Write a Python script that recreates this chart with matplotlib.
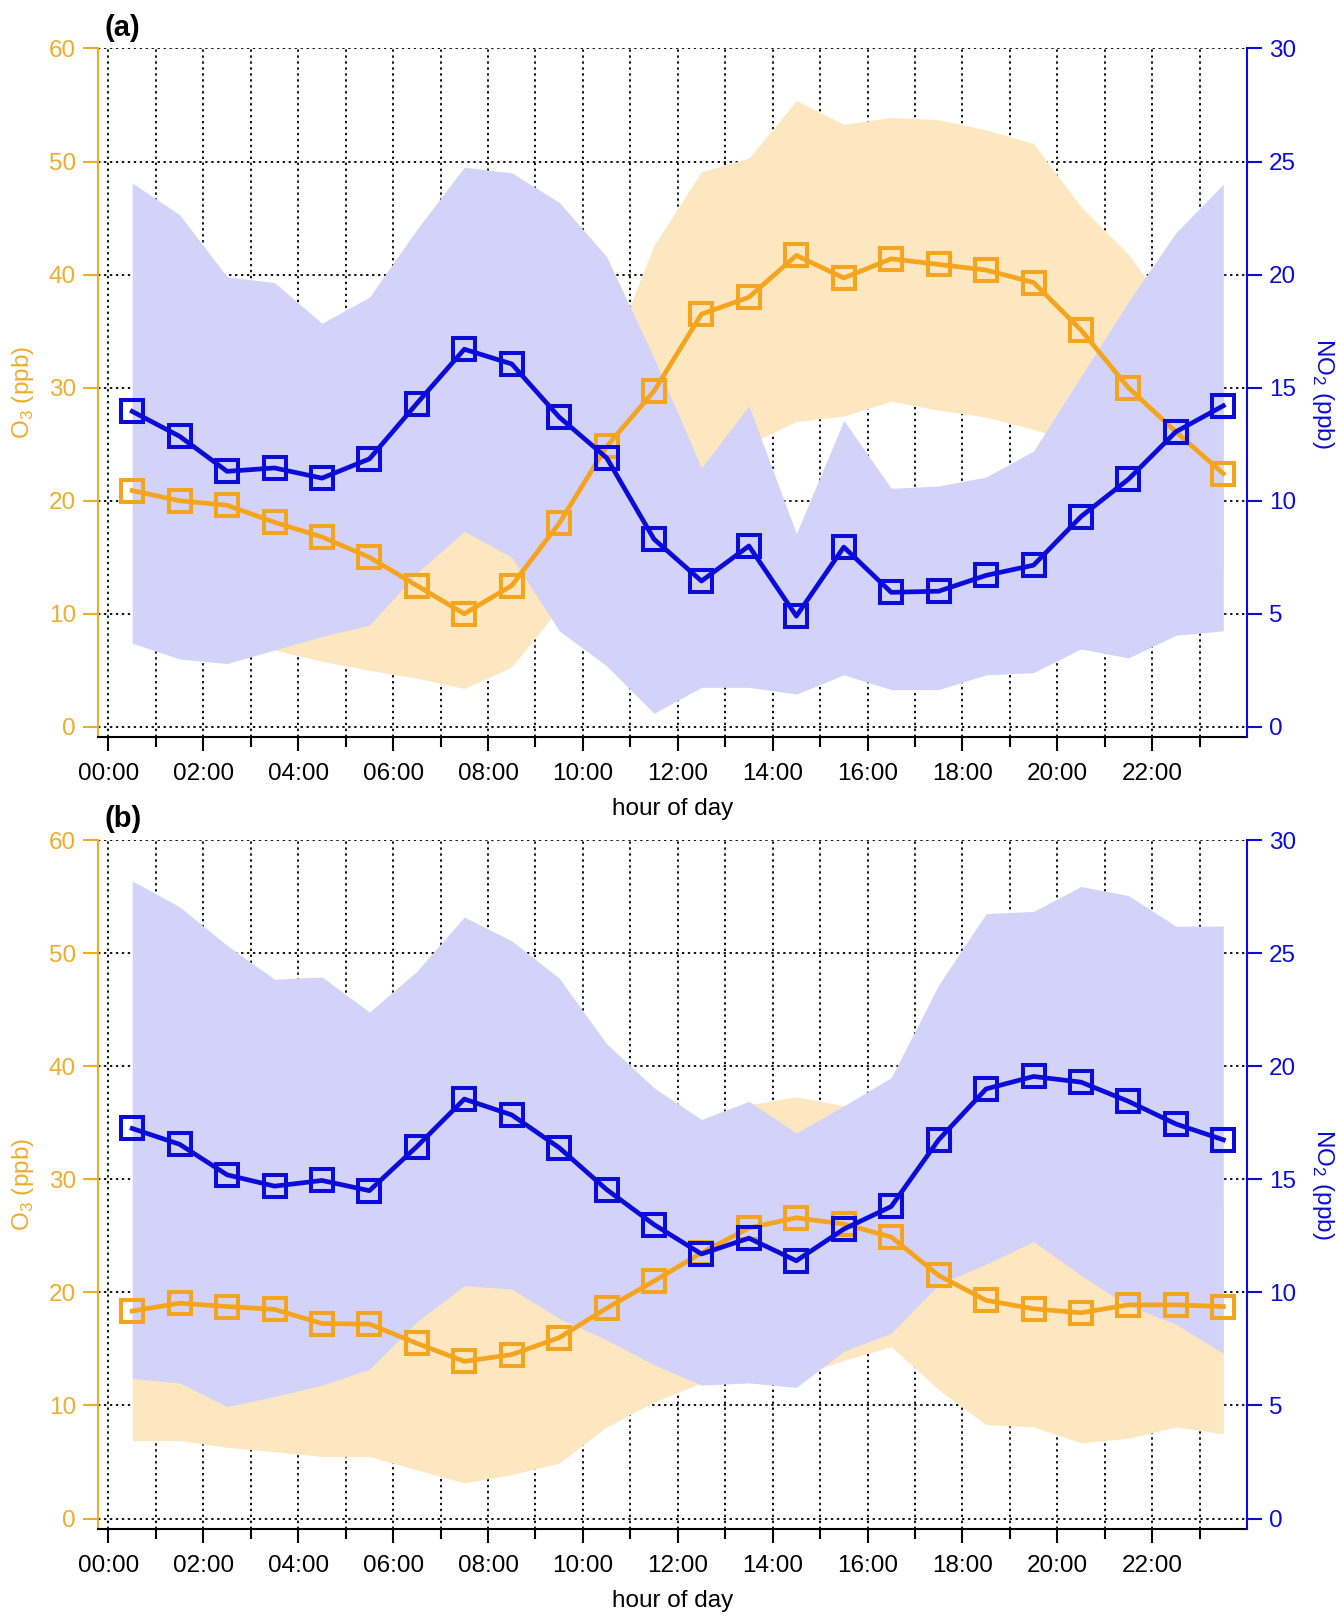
import numpy as np
import matplotlib
matplotlib.use("Agg")
from matplotlib import pyplot as plt

plt.rcParams['font.family'] = ['Liberation Sans', 'DejaVu Sans']
plt.rcParams['mathtext.fontset'] = 'custom'
plt.rcParams['mathtext.rm'] = 'Liberation Sans'

# hour of day (bin centres) and tick labels
hours = [0.5, 1.5, 2.5, 3.5, 4.5, 5.5, 6.5, 7.5, 8.5, 9.5, 10.5, 11.5,
         12.5, 13.5, 14.5, 15.5, 16.5, 17.5, 18.5, 19.5, 20.5, 21.5, 22.5, 23.5]
major_hours = [0, 2, 4, 6, 8, 10, 12, 14, 16, 18, 20, 22]
minor_hours = [1, 3, 5, 7, 9, 11, 13, 15, 17, 19, 21, 23]
hour_labels = ["00:00", "02:00", "04:00", "06:00", "08:00", "10:00",
               "12:00", "14:00", "16:00", "18:00", "20:00", "22:00"]

# panel (a) -- O3 (ppb)
o3_a = [20.9, 20.0, 19.6, 18.1, 16.8, 15.0, 12.5, 10.0, 12.5, 18.0, 24.8, 29.7,
        36.5, 38.0, 41.7, 39.7, 41.4, 40.9, 40.4, 39.3, 35.1, 30.0, 26.1, 22.4]
o3_a_lo = [12.0, 10.0, 8.5, 6.8, 5.8, 5.0, 4.3, 3.4, 5.3, 10.5, 16.0, 20.0,
           22.5, 25.0, 27.0, 27.5, 28.8, 28.0, 27.4, 26.3, 25.0, 22.0, 18.0, 14.0]
o3_a_hi = [30.0, 29.0, 27.0, 24.0, 22.0, 20.0, 20.0, 22.0, 22.0, 24.0, 32.0, 42.6,
           49.1, 50.3, 55.4, 53.3, 53.9, 53.7, 52.8, 51.6, 46.0, 41.8, 36.0, 30.0]
# panel (a) -- NO2 (ppb)
no2_a = [13.95, 12.85, 11.3, 11.45, 11.0, 11.85, 14.3, 16.7, 16.05, 13.7, 11.9, 8.3,
         6.45, 8.0, 4.9, 7.95, 5.95, 6.0, 6.7, 7.15, 9.3, 10.95, 13.05, 14.2]
no2_a_lo = [3.7, 3.0, 2.8, 3.4, 4.0, 4.5, 6.8, 8.65, 7.5, 4.25, 2.7, 0.6,
            1.75, 1.75, 1.45, 2.3, 1.65, 1.65, 2.3, 2.4, 3.45, 3.05, 4.05, 4.25]
no2_a_hi = [24.05, 22.65, 19.9, 19.65, 17.85, 19.0, 22.0, 24.75, 24.5, 23.2, 20.8, 16.3,
            11.45, 14.2, 8.55, 13.55, 10.55, 10.65, 11.05, 12.2, 15.5, 18.8, 21.85, 24.0]

# panel (b) -- O3 (ppb)
o3_b = [18.35, 19.05, 18.75, 18.5, 17.25, 17.2, 15.5, 13.9, 14.5, 16.0, 18.6, 21.0,
        23.5, 25.7, 26.6, 26.05, 24.9, 21.5, 19.3, 18.55, 18.2, 18.9, 18.9, 18.75]
o3_b_lo = [6.9, 6.9, 6.3, 5.9, 5.5, 5.5, 4.3, 3.15, 3.9, 4.9, 8.1, 10.3,
           12.0, 12.5, 12.5, 14.0, 15.2, 11.4, 8.3, 8.1, 6.7, 7.1, 8.1, 7.5]
o3_b_hi = [28.0, 29.0, 29.0, 29.0, 28.0, 28.0, 26.0, 24.0, 25.0, 27.0, 29.0, 31.0,
           33.5, 36.6, 37.3, 36.5, 35.0, 31.0, 28.0, 27.0, 27.0, 27.0, 28.0, 28.0]
# panel (b) -- NO2 (ppb)
no2_b = [17.25, 16.55, 15.2, 14.7, 14.95, 14.5, 16.45, 18.55, 17.85, 16.4, 14.55, 13.0,
         11.7, 12.4, 11.4, 12.8, 13.8, 16.75, 19.0, 19.55, 19.3, 18.45, 17.45, 16.75]
no2_b_lo = [6.2, 6.0, 4.95, 5.4, 5.9, 6.6, 8.7, 10.3, 10.15, 8.85, 7.9, 6.8,
            5.9, 6.0, 5.8, 7.4, 8.2, 10.35, 11.25, 12.25, 10.75, 9.4, 8.6, 7.3]
no2_b_hi = [28.2, 27.05, 25.35, 23.85, 23.95, 22.4, 24.2, 26.6, 25.55, 23.9, 21.0, 19.05,
            17.65, 18.45, 17.05, 18.25, 19.5, 23.6, 26.75, 26.85, 27.95, 27.55, 26.2, 26.2]

ORANGE = '#F5A41D'
ORANGE_TXT = '#F0AC2A'
ORANGE_BAND = '#FCE7C0'
BLUE = '#0B0BDA'
BLUE_BAND = '#D3D3F9'
FS = 17.5


def draw_panel(rect, o3, o3_lo, o3_hi, no2, no2_lo, no2_hi, tag, tag_y):
    ax = fig.add_axes(rect)
    ax2 = ax.twinx()

    # bands: O3 below, NO2 on top of it
    ax.fill_between(hours, o3_lo, o3_hi, color=ORANGE_BAND, lw=0)
    ax2.fill_between(hours, no2_lo, no2_hi, color=BLUE_BAND, lw=0)

    # lines drawn on the twin axes so they sit above both bands
    ax2.plot(hours, o3, color=ORANGE, lw=3.4, marker='s', ms=15.5, mew=2.9,
             mfc='none', mec=ORANGE, transform=ax.transData)
    ax2.plot(hours, no2, color=BLUE, lw=3.4, marker='s', ms=15.5, mew=2.9,
             mfc='none', mec=BLUE)

    ax.set_xlim(-0.22, 24)
    ax.set_ylim(-0.9, 60)
    ax2.set_ylim(-0.45, 30)

    ax.set_xticks(major_hours)
    ax.set_xticklabels(hour_labels)
    ax.set_xticks(minor_hours, minor=True)
    ax.set_yticks([0, 10, 20, 30, 40, 50, 60])
    ax2.set_yticks([0, 5, 10, 15, 20, 25, 30])

    ax.set_axisbelow(True)
    ax.grid(True, which='both', axis='x', color='black', ls=(0, (1.3, 2.0)), lw=1.3)
    ax.grid(True, which='major', axis='y', color='black', ls=(0, (1.3, 2.0)), lw=1.3)

    for s in ['top', 'right']:
        ax.spines[s].set_visible(False)
    for s in ['top', 'left', 'bottom']:
        ax2.spines[s].set_visible(False)
    ax.spines['left'].set_color(ORANGE_TXT)
    ax.spines['left'].set_linewidth(1.5)
    ax.spines['bottom'].set_linewidth(1.5)
    ax2.spines['right'].set_color(BLUE)
    ax2.spines['right'].set_linewidth(1.5)

    ax.tick_params(axis='y', colors=ORANGE_TXT, labelsize=FS, length=11, width=1.5, pad=5)
    ax2.tick_params(axis='y', colors=BLUE, labelsize=FS, length=11, width=1.5, pad=5)
    ax.tick_params(axis='x', which='major', labelsize=FS, length=10, width=1.5, pad=9)
    ax.tick_params(axis='x', which='minor', length=7, width=1.5)

    ax.set_ylabel("O$_3$ (ppb)", color=ORANGE_TXT, fontsize=FS, va='center')
    ax.yaxis.set_label_coords(-0.065, 0.5)
    ax2.set_ylabel("NO$_2$ (ppb)", color=BLUE, fontsize=FS, rotation=270, va='center')
    ax2.yaxis.set_label_coords(1.066, 0.5)
    ax.set_xlabel("hour of day", fontsize=FS, va='center')
    ax.xaxis.set_label_coords(0.5, -0.105)

    fig.text(104 / 1336, tag_y, tag, fontsize=21, fontweight='bold',
             ha='left', va='center')


fig = plt.figure(figsize=(13.36, 16.16), dpi=100)
draw_panel([0.0734, 0.5439, 0.860, 0.4261], o3_a, o3_a_lo, o3_a_hi,
           no2_a, no2_a_lo, no2_a_hi, "(a)", 1 - 28 / 1616)
draw_panel([0.0734, 0.0540, 0.860, 0.4261], o3_b, o3_b_lo, o3_b_hi,
           no2_b, no2_b_lo, no2_b_hi, "(b)", 1 - 819 / 1616)

fig.savefig("out.png", dpi=100)
